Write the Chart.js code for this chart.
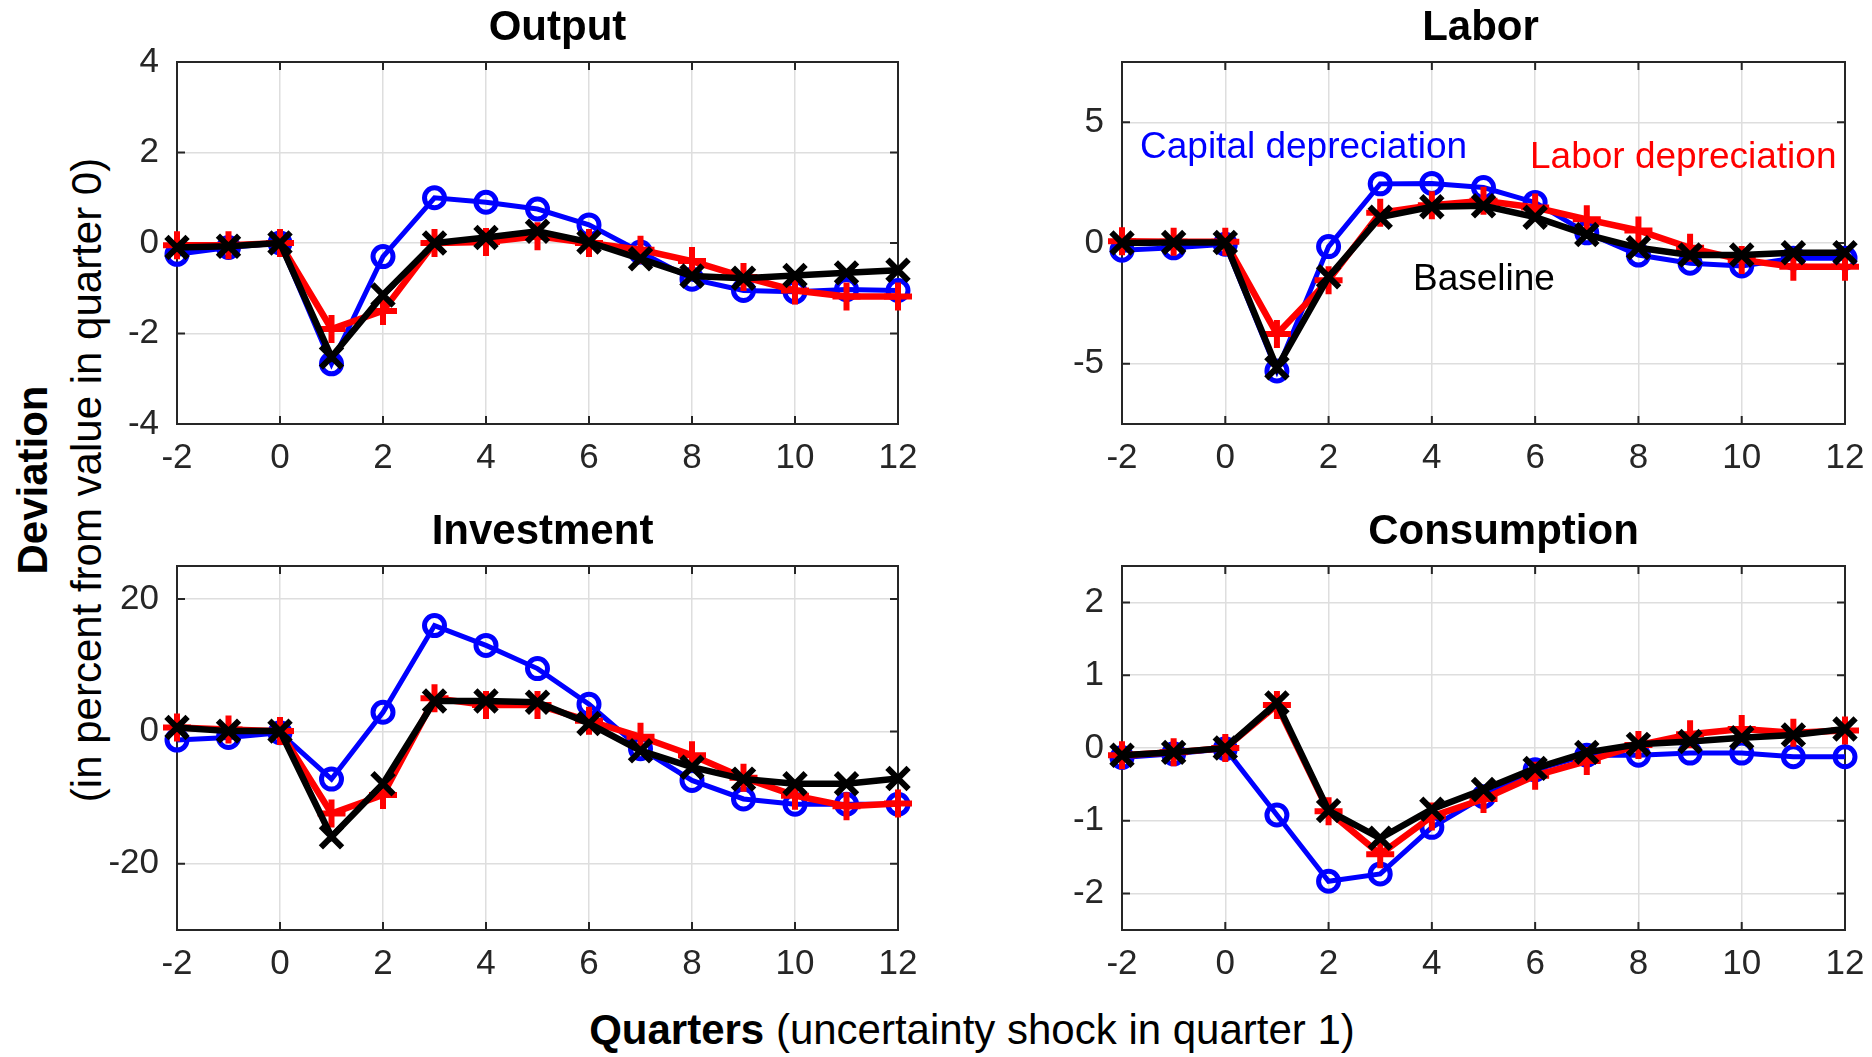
<!DOCTYPE html>
<html lang="en">
<head>
<meta charset="utf-8">
<title>Uncertainty shock responses</title>
<script src="https://cdn.jsdelivr.net/npm/chart.js@4.4.1/dist/chart.umd.min.js"></script>
<style>
  html, body { margin: 0; padding: 0; background: #fff; }
  body { width: 1872px; height: 1057px; position: relative; overflow: hidden;
         font-family: "Liberation Sans", Arial, Helvetica, sans-serif; }
  .painel { position: absolute; z-index: 1; }
  .texto { position: absolute; z-index: 2; white-space: nowrap; line-height: 1; transform: translateY(-50%); }
  .rotulo-y { position: absolute; white-space: nowrap; line-height: 1; font-size: 42px;
              transform: translate(-50%, -50%) rotate(-90deg); color: #000; }
</style>
</head>
<body>

<div class="rotulo-y" style="left:33px; top:480px; font-weight:bold;">Deviation</div>
<div class="rotulo-y" style="left:87px; top:480px;">(in percent from value in quarter 0)</div>
<div class="texto" style="left:972px; top:1030px; font-size:42px; transform:translate(-50%,-50%);"><b>Quarters</b> (uncertainty shock in quarter 1)</div>

<div class="texto" style="left:1140px; top:145px; font-size:37px; color:#0000ff;">Capital depreciation</div>
<div class="texto" style="left:1530px; top:155px; font-size:37px; color:#ff0000;">Labor depreciation</div>
<div class="texto" style="left:1413px; top:277px; font-size:37px; color:#000;">Baseline</div>

<script>
// Respostas a um choque de incerteza no trimestre 1 (desvio % em relação ao trimestre 0).
// Três versões do modelo: depreciação do capital (azul), do trabalho (vermelho) e base (preto).

const trimestres = [-2, -1, 0, 1, 2, 3, 4, 5, 6, 7, 8, 9, 10, 11, 12];
const marcasX = [-2, 0, 2, 4, 6, 8, 10, 12];

const produtoCapital  = [-0.25, -0.1, 0, -2.67, -0.3, 1.0, 0.9, 0.75, 0.4, -0.2, -0.8, -1.05, -1.08, -1.03, -1.05];
const produtoTrabalho = [-0.05, -0.05, 0, -1.9, -1.5, 0.0, 0.02, 0.15, 0.0, -0.15, -0.4, -0.75, -1.05, -1.18, -1.18];
const produtoBase     = [-0.1, -0.07, 0, -2.52, -1.15, 0.0, 0.12, 0.26, 0.02, -0.35, -0.73, -0.78, -0.72, -0.66, -0.6];
const marcasProduto   = [-4, -2, 0, 2, 4];

const trabalhoCapital  = [-0.3, -0.2, -0.05, -5.3, -0.15, 2.45, 2.47, 2.3, 1.68, 0.42, -0.5, -0.84, -0.95, -0.63, -0.63];
const trabalhoTrabalho = [0.07, 0.05, 0.05, -3.77, -1.54, 1.25, 1.56, 1.75, 1.47, 0.98, 0.52, -0.2, -0.7, -0.98, -0.98];
const trabalhoBase     = [0.0, 0.02, 0.02, -5.17, -1.4, 1.07, 1.5, 1.54, 1.07, 0.35, -0.2, -0.5, -0.5, -0.4, -0.4];
const marcasTrabalho   = [-5, 0, 5];

const investCapital  = [-1.3, -0.9, -0.2, -7.2, 2.9, 16.0, 13.0, 9.5, 4.1, -2.6, -7.4, -10.2, -11.0, -11.0, -11.0];
const investTrabalho = [0.6, 0.3, 0.05, -12.4, -9.6, 5.0, 4.0, 4.0, 1.6, -0.8, -3.6, -7.0, -9.7, -11.3, -10.9];
const investBase     = [0.6, 0.05, 0.05, -15.9, -7.9, 4.6, 4.6, 4.4, 1.2, -2.9, -5.4, -7.2, -7.9, -7.9, -7.1];
const marcasInvest   = [-20, 0, 20];

const consumoCapital  = [-0.13, -0.08, -0.01, -0.92, -1.83, -1.73, -1.09, -0.67, -0.3, -0.1, -0.1, -0.07, -0.07, -0.12, -0.12];
const consumoTrabalho = [-0.1, -0.06, 0, 0.59, -0.87, -1.46, -0.94, -0.7, -0.38, -0.18, 0.04, 0.19, 0.26, 0.21, 0.24];
const consumoBase     = [-0.1, -0.06, 0, 0.62, -0.86, -1.24, -0.84, -0.57, -0.28, -0.06, 0.05, 0.09, 0.14, 0.18, 0.26];
const marcasConsumo   = [-2, -1, 0, 1, 2];

// Layout: posição da área do gráfico em pixels da página
const LARG_Y = 110, ALT_X = 60, TOPO_TITULO = 62, FOLGA_DIR = 40;
const FONTE = '"Liberation Sans", Arial, Helvetica, sans-serif';
const COR_EIXO = '#262626';

const paineis = [
  { titulo: 'Output',      series: [produtoCapital, produtoTrabalho, produtoBase], min: -4,   max: 4,   marcas: marcasProduto,  esq: 177,  dir: 898,  topo: 62,  fundo: 424, desloc: 20 },
  { titulo: 'Labor',       series: [trabalhoCapital, trabalhoTrabalho, trabalhoBase], min: -7.5, max: 7.5, marcas: marcasTrabalho, esq: 1122, dir: 1845, topo: 62,  fundo: 424, desloc: -3 },
  { titulo: 'Investment',  series: [investCapital, investTrabalho, investBase], min: -30,  max: 25,  marcas: marcasInvest,   esq: 177,  dir: 898,  topo: 566, fundo: 930, desloc: 5 },
  { titulo: 'Consumption', series: [consumoCapital, consumoTrabalho, consumoBase], min: -2.5, max: 2.5, marcas: marcasConsumo,  esq: 1122, dir: 1845, topo: 566, fundo: 930, desloc: 20 },
];

const ESTILOS = [
  { label: 'Capital depreciation', cor: '#0000ff', largura: 5,   ponto: 'circle',   raio: 10, borda: 5, ordem: 3 },
  { label: 'Labor depreciation',   cor: '#ff0000', largura: 6.5, ponto: 'cross',    raio: 14, borda: 6, ordem: 2 },
  { label: 'Baseline',             cor: '#000000', largura: 6.5, ponto: 'crossRot', raio: 15, borda: 6, ordem: 1 },
];

// Caixa estilo MATLAB: contorno nos quatro lados e marcas para dentro
const caixa = {
  id: 'caixa',
  beforeDatasetsDraw(chart) {
    const { ctx, chartArea: a, scales: { x, y } } = chart;
    const tam = 8;
    ctx.save();
    ctx.strokeStyle = COR_EIXO;
    ctx.lineWidth = 2;
    ctx.strokeRect(a.left, a.top, a.right - a.left, a.bottom - a.top);
    ctx.beginPath();
    x.ticks.forEach((t) => {
      const px = x.getPixelForValue(t.value);
      ctx.moveTo(px, a.bottom); ctx.lineTo(px, a.bottom - tam);
      ctx.moveTo(px, a.top); ctx.lineTo(px, a.top + tam);
    });
    y.ticks.forEach((t) => {
      const py = y.getPixelForValue(t.value);
      ctx.moveTo(a.left, py); ctx.lineTo(a.left + tam, py);
      ctx.moveTo(a.right, py); ctx.lineTo(a.right - tam, py);
    });
    ctx.stroke();
    ctx.restore();
  },
};

// Título do painel, centrado na área do gráfico com pequeno deslocamento (como no original)
const titulo = {
  id: 'titulo',
  afterDraw(chart, args, opts) {
    const { ctx, chartArea: a } = chart;
    ctx.save();
    ctx.font = `bold 42px ${FONTE}`;
    ctx.fillStyle = '#000';
    ctx.textAlign = 'center';
    ctx.textBaseline = 'middle';
    ctx.fillText(opts.texto, (a.left + a.right) / 2 + (opts.desloc || 0), a.top - 34);
    ctx.restore();
  },
};

function montarPainel(p) {
  const wrap = document.createElement('div');
  wrap.className = 'painel';
  Object.assign(wrap.style, {
    left: (p.esq - LARG_Y) + 'px',
    top: (p.topo - TOPO_TITULO) + 'px',
    width: (p.dir - p.esq + LARG_Y + FOLGA_DIR) + 'px',
    height: (p.fundo - p.topo + TOPO_TITULO + ALT_X) + 'px',
  });
  const canvas = document.createElement('canvas');
  wrap.appendChild(canvas);
  document.body.appendChild(wrap);

  const datasets = p.series.map((serie, i) => {
    const e = ESTILOS[i];
    return {
      label: e.label,
      data: trimestres.map((q, k) => ({ x: q, y: serie[k] })),
      borderColor: e.cor,
      borderWidth: e.largura,
      pointStyle: e.ponto,
      pointRadius: e.raio,
      pointBorderWidth: e.borda,
      pointBorderColor: e.cor,
      pointBackgroundColor: 'rgba(0,0,0,0)',
      order: e.ordem,
      clip: false,
      tension: 0,
    };
  });

  const ticksFont = { family: FONTE, size: 35 };

  return new Chart(canvas, {
    type: 'line',
    data: { datasets },
    options: {
      responsive: true, maintainAspectRatio: false, animation: false,
      layout: { padding: { left: 0, right: FOLGA_DIR, top: TOPO_TITULO, bottom: 0 } },
      plugins: {
        legend: { display: false },
        tooltip: { enabled: false },
        title: { display: false },
        titulo: { texto: p.titulo, desloc: p.desloc },
      },
      scales: {
        x: {
          type: 'linear', min: -2, max: 12,
          afterBuildTicks: (s) => { s.ticks = marcasX.map((v) => ({ value: v })); },
          afterFit: (s) => { s.height = ALT_X; },
          grid: { color: '#dedede', lineWidth: 1.5, drawTicks: false },
          border: { display: false },
          ticks: { color: COR_EIXO, font: ticksFont, padding: 13, maxRotation: 0, autoSkip: false, callback: (v) => String(v) },
        },
        y: {
          type: 'linear', min: p.min, max: p.max,
          afterBuildTicks: (s) => { s.ticks = p.marcas.map((v) => ({ value: v })); },
          afterFit: (s) => { s.width = LARG_Y; },
          grid: { color: '#dedede', lineWidth: 1.5, drawTicks: false },
          border: { display: false },
          ticks: { color: COR_EIXO, font: ticksFont, padding: 18, autoSkip: false, callback: (v) => String(v) },
        },
      },
    },
    plugins: [caixa, titulo],
  });
}

paineis.forEach(montarPainel);
</script>
</body>
</html>
